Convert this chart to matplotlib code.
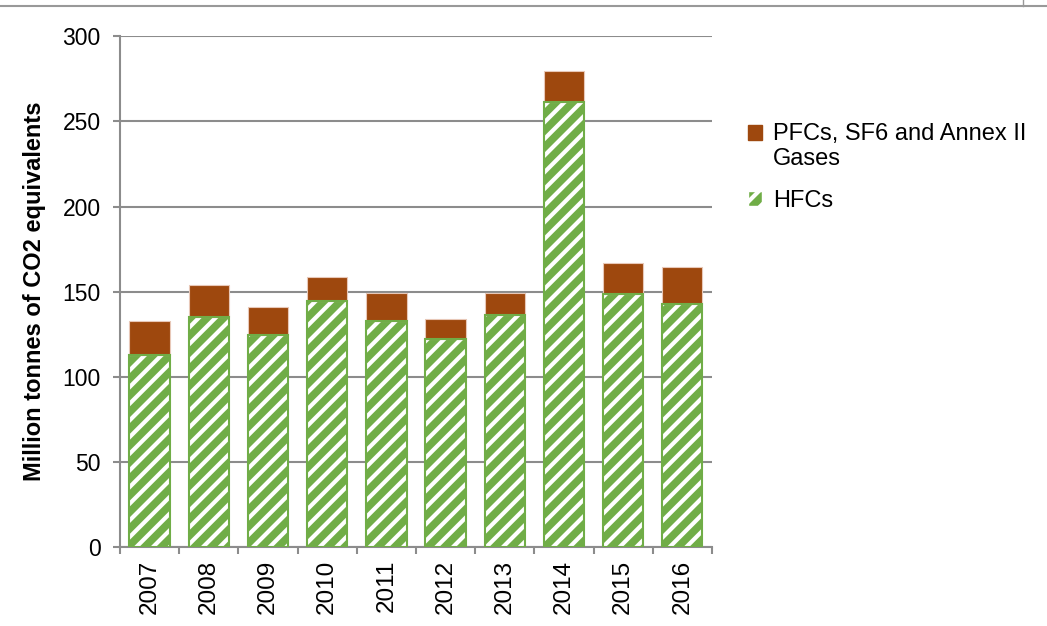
import numpy as np
import matplotlib.pyplot as plt
from matplotlib.lines import Line2D
from matplotlib.patches import Rectangle
from matplotlib.legend_handler import HandlerPatch

plt.rcParams['font.family'] = ['Liberation Sans', 'DejaVu Sans']
plt.rcParams['font.size'] = 16.5
plt.rcParams['hatch.linewidth'] = 3.0

years = ['2007', '2008', '2009', '2010', '2011', '2012', '2013', '2014', '2015', '2016']
hfcs = [112.7, 135.0, 124.5, 144.4, 132.7, 122.1, 136.2, 261.3, 148.5, 142.7]
pfcs = [20.0, 18.8, 16.4, 14.1, 16.4, 11.8, 12.9, 18.2, 18.2, 21.7]

green = '#70AD47'
brown = '#9E480E'
grid_c = '#8C8C8C'

fig = plt.figure(figsize=(10.47, 6.26), dpi=100)
ax = fig.add_axes([0.1146, 0.126, 0.5654, 0.816])

x = np.arange(len(years))
w = 0.68

# green bars with white stripes, then a green outline on top
ax.bar(x, hfcs, w, color=green, edgecolor='white', hatch='//', linewidth=0, zorder=3)
ax.bar(x, hfcs, w, facecolor='none', edgecolor=green, linewidth=1.5, zorder=4)
ax.bar(x, pfcs, w, bottom=hfcs, color=brown, edgecolor='#E8C8B8', linewidth=0.8, zorder=3)

ax.set_xlim(-0.5, len(years) - 0.5)
ax.set_ylim(0, 300)
ax.set_yticks(np.arange(0, 301, 50))
ax.yaxis.grid(True, color=grid_c, linewidth=1.5, zorder=0)
ax.set_axisbelow(True)

ax.set_xticks(x)
ax.set_xticklabels(years, rotation=90, fontsize=17.5)
ax.set_xticks(np.arange(-0.5, len(years)), minor=True)
ax.tick_params(axis='x', which='major', length=0, pad=9)
ax.tick_params(axis='x', which='minor', length=5, color=grid_c, width=1.5)
ax.tick_params(axis='y', length=5, color=grid_c, width=1.5, pad=9)

for s in ['top', 'right']:
    ax.spines[s].set_visible(False)
for s in ['left', 'bottom']:
    ax.spines[s].set_color(grid_c)
    ax.spines[s].set_linewidth(1.5)

ax.set_ylabel('Million tonnes of CO2 equivalents', fontweight='bold', fontsize=17, labelpad=12)


# the two-line legend entry has its square next to the first line
def upper_square(legend, orig_handle, xdescent, ydescent, width, height, fontsize):
    return Rectangle((-xdescent, -ydescent + 0.58 * fontsize), width, height)


handles = [
    plt.Rectangle((0, 0), 1, 1, facecolor=brown, edgecolor=brown),
    plt.Rectangle((0, 0), 1, 1, facecolor=green, edgecolor='white', hatch='//'),
]
labels = ['PFCs, SF6 and Annex II\nGases', 'HFCs']
leg = fig.legend(handles, labels, loc='upper left', bbox_to_anchor=(0.703, 0.822),
                 frameon=False, handlelength=0.6, handleheight=0.6, handletextpad=0.45,
                 labelspacing=0.85, fontsize=17, borderpad=0,
                 handler_map={handles[0]: HandlerPatch(patch_func=upper_square)})
for t in leg.get_texts():
    t.set_linespacing(1.15)

# container border at the top
fig.add_artist(Line2D([0, 1], [0.991, 0.991], color='#999999', linewidth=1.5))
fig.add_artist(Line2D([0.977, 0.977], [0.991, 1.0], color='#999999', linewidth=1.0))

fig.savefig('out.png', dpi=100)
